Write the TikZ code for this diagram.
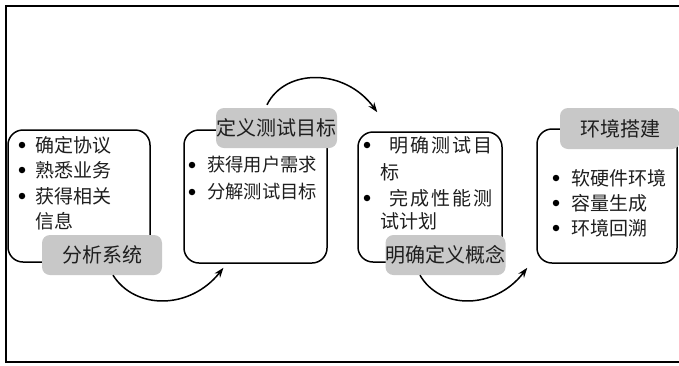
\documentclass[tikz,border=0pt]{standalone}
\usepackage{fontspec}
\newfontfamily\cjk{Noto Sans CJK SC}
\usetikzlibrary{arrows.meta}
\definecolor{labgray}{RGB}{200,200,200}
\definecolor{txt}{RGB}{30,30,30}
\tikzset{
  stage/.style={draw=black, line width=1.5pt, rounded corners=15pt, fill=white},
  tag/.style={fill=labgray, rounded corners=8pt, inner sep=0pt, font=\cjk\fontsize{20}{20}\selectfont, text=txt},
  item/.style={anchor=west, inner sep=0pt, font=\cjk\fontsize{19}{19}\selectfont, text=txt},
  dot/.style={circle, fill=black, inner sep=0pt, minimum size=6.5pt},
  flow/.style={line width=1.5pt, -{Stealth[length=10pt,width=7pt]}},
}
\begin{document}
\begin{tikzpicture}[x=1pt,y=-1pt]
\useasboundingbox (0,0) rectangle (679,365);
\fill[white] (0,0) rectangle (679,365);
\draw[line width=2pt] (690,5.5) -- (6,5.5) -- (6,362) -- (690,362);

% boxes
\node[stage, minimum width=142pt, minimum height=132pt] (box1) at (79,196) {};
\node[stage, minimum width=143pt, minimum height=133pt] (box2) at (255.5,196.5) {};
\node[stage, minimum width=144pt, minimum height=130pt] (box3) at (430,197) {};
\node[stage, minimum width=140pt, minimum height=134pt] (box4) at (607,196) {};

% box 1 items
\node[dot] (d11) at (22,145) {};
\node[item] (t11) at (35,145) {确定协议};
\node[dot] (d12) at (22,170) {};
\node[item] (t12) at (35,170) {熟悉业务};
\node[dot] (d13) at (22,196) {};
\node[item] (t13) at (35,196) {获得相关};
\node[item] (t14) at (35,221) {信息};

% box 2 items
\node[dot] (d21) at (192,165) {};
\node[item, font=\cjk\fontsize{18.3}{18.3}\selectfont] (t21) at (207,165) {获得用户需求};
\node[dot] (d22) at (192,192) {};
\node[item, font=\cjk\fontsize{18.3}{18.3}\selectfont] (t22) at (207,192) {分解测试目标};

% box 3 items
\node[dot] (d31) at (367,145) {};
\node[item] (t31) at (389,145) {\makebox[103pt][l]{明\hfill 确\hfill 测\hfill 试\hfill 目}};
\node[item] (t32) at (380,172) {标};
\node[dot] (d32) at (367,198) {};
\node[item] (t33) at (389,198) {\makebox[103pt][l]{完\hfill 成\hfill 性\hfill 能\hfill 测}};
\node[item] (t34) at (380,221) {试计划};

% box 4 items
\node[dot] (d41) at (556,178) {};
\node[item] (t41) at (571,178) {软硬件环境};
\node[dot] (d42) at (556,203) {};
\node[item] (t42) at (571,203) {容量生成};
\node[dot] (d43) at (556,228) {};
\node[item] (t43) at (571,228) {环境回溯};

% labels
\node[tag, minimum width=120pt, minimum height=40pt] (lab1) at (102,255) {分析系统};
\node[tag, minimum width=121pt, minimum height=40pt] (lab2) at (276.5,128) {定义测试目标};
\node[tag, minimum width=119pt, minimum height=40pt] (lab3) at (445.5,255) {明确定义概念};
\node[tag, minimum width=120pt, minimum height=41pt] (lab4) at (620,128.5) {环境搭建};

% connectors
\draw[flow] ([xshift=11pt]lab1.south) .. controls (135,310) and (190,310) .. ([xshift=-32pt,yshift=-4pt]box2.south);
\draw[flow] ([xshift=-9.5pt,yshift=3pt]lab2.north) .. controls (285,68) and (345,68) .. ([xshift=20pt,yshift=19pt]box3.north west);
\draw[flow] ([xshift=-25.5pt]lab3.south) .. controls (440,310) and (495,310) .. ([xshift=-9pt,yshift=-4pt]box4.south west);
\end{tikzpicture}
\end{document}
